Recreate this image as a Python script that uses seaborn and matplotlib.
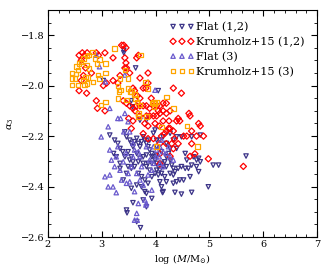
import numpy as np
import pandas as pd
import matplotlib
matplotlib.use("Agg")
import matplotlib.pyplot as plt
import seaborn as sns
from matplotlib.ticker import MultipleLocator

# Flat (1,2): downward triangles
flat12_x = [3.41, 3.41, 3.03, 4.05, 3.55, 3.63, 3.15, 3.24, 3.30, 3.34,
            3.39, 3.43, 3.46, 3.52, 3.55, 3.58, 3.61, 3.65, 3.68, 3.71,
            3.74, 3.77, 3.80, 3.83, 3.86, 3.89, 3.93, 3.96, 3.99, 4.02,
            4.05, 4.08, 4.11, 4.14, 4.17, 4.20, 4.24, 4.27, 4.30, 4.33,
            4.36, 3.65, 3.71, 3.77, 3.83, 3.89, 3.61, 3.68, 3.74, 3.80,
            3.86, 3.52, 3.55, 3.46, 3.40, 3.34, 3.27, 3.22, 3.93, 3.99,
            4.08, 4.11, 4.14, 4.20, 4.33, 4.39, 4.45, 4.52, 4.42, 4.48,
            4.55, 4.61, 4.64, 4.67, 4.70, 4.76, 4.80, 4.83, 4.76, 4.80,
            4.67, 4.83, 4.48, 4.33, 4.39, 4.55, 4.58, 5.07, 5.17, 5.68,
            4.98, 4.67, 4.48, 4.36, 4.13, 3.93, 3.83, 3.77, 3.83, 3.58,
            3.46, 3.47, 3.65, 3.72, 3.55, 3.65, 3.74, 3.80, 3.34, 3.43,
            3.49, 3.55, 4.02, 4.11, 4.20, 4.27, 4.08, 4.14, 4.27, 4.39,
            3.89, 3.96, 3.99, 3.83, 4.02, 3.71, 3.57, 3.93, 4.02, 3.83,
            3.93, 4.02, 4.11, 4.20, 4.27, 4.33, 4.17, 4.05, 3.86, 3.77,
            3.68, 3.58, 3.49]
flat12_y = [-1.860, -1.870, -1.980, -2.020, -2.060, -1.930, -2.196, -2.216, -2.229, -2.249,
            -2.262, -2.183, -2.203, -2.216, -2.229, -2.242, -2.222, -2.209, -2.229, -2.242,
            -2.222, -2.203, -2.216, -2.229, -2.242, -2.255, -2.269, -2.282, -2.295, -2.308,
            -2.321, -2.335, -2.348, -2.321, -2.302, -2.282, -2.269, -2.295, -2.315, -2.328,
            -2.341, -2.269, -2.288, -2.308, -2.321, -2.335, -2.321, -2.348, -2.361, -2.374,
            -2.387, -2.295, -2.328, -2.348, -2.374, -2.328, -2.282, -2.269, -2.361, -2.348,
            -2.381, -2.401, -2.420, -2.381, -2.387, -2.381, -2.374, -2.374, -2.328, -2.321,
            -2.328, -2.328, -2.361, -2.315, -2.282, -2.295, -2.288, -2.302, -2.321, -2.341,
            -2.203, -2.196, -2.203, -2.216, -2.249, -2.269, -2.295, -2.315, -2.315, -2.279,
            -2.401, -2.423, -2.430, -2.423, -2.424, -2.447, -2.427, -2.453, -2.480, -2.464,
            -2.493, -2.504, -2.539, -2.563, -2.407, -2.394, -2.401, -2.420, -2.308, -2.282,
            -2.262, -2.282, -2.242, -2.262, -2.229, -2.249, -2.216, -2.203, -2.189, -2.203,
            -2.216, -2.189, -2.176, -2.137, -2.216, -2.137, -2.084, -2.282, -2.275, -2.275,
            -2.308, -2.335, -2.308, -2.321, -2.348, -2.354, -2.361, -2.354, -2.308, -2.282,
            -2.302, -2.302, -2.321]

# Flat (3): upward triangles
flat3_x = [2.96, 3.07, 3.15, 3.12, 2.99, 3.15, 3.18, 3.06, 3.12, 3.21, 3.27, 3.15, 3.24, 3.27,
           3.30, 3.34, 3.37, 3.40, 3.41, 3.45, 3.49, 3.52, 3.46, 3.55, 3.58, 3.61, 3.65, 3.30,
           3.43, 3.49, 3.52, 3.58, 3.61, 3.68, 3.71, 3.74, 3.77, 3.80, 3.83, 3.82, 3.65, 3.61,
           3.66, 3.71, 3.86, 3.93, 3.93, 3.96, 4.01, 4.02, 4.07, 4.14, 4.20, 4.24, 4.27, 4.33,
           4.08, 4.11, 3.89, 3.83, 3.43, 3.99, 3.96, 4.08, 4.14, 2.90, 3.35, 3.68]
flat3_y = [-1.925, -1.985, -2.090, -2.163, -2.203, -2.255, -2.295, -2.361, -2.401, -2.401,
           -2.424, -2.354, -2.321, -2.282, -2.242, -2.335, -2.374, -2.302, -2.183, -2.269,
           -2.348, -2.381, -2.387, -2.321, -2.282, -2.420, -2.348, -2.130, -2.110, -2.143,
           -2.183, -2.229, -2.255, -2.262, -2.282, -2.321, -2.394, -2.453, -2.467, -2.473,
           -2.506, -2.533, -2.533, -2.374, -2.354, -2.414, -2.335, -2.308, -2.282, -2.255,
           -2.282, -2.262, -2.269, -2.242, -2.282, -2.295, -2.242, -2.216, -2.295, -2.242,
           -1.958, -2.018, -2.242, -2.308, -2.321, -1.879, -2.130, -2.467]

# Krumholz+15 (1,2): diamonds
krum12_x = [3.37, 3.41, 3.45, 3.43, 3.45, 3.43, 2.58, 2.64, 2.68, 2.73, 2.62, 2.90, 2.94, 3.06,
            3.21, 3.65, 3.68, 2.81, 2.70, 2.58, 2.72, 2.62, 2.66, 2.90, 2.92, 3.06, 3.03, 3.09,
            3.21, 3.30, 3.34, 3.46, 3.52, 3.71, 3.86, 3.77, 3.82, 3.86, 3.58, 3.61, 3.66, 3.71,
            4.33, 4.48, 3.40, 3.46, 3.52, 3.58, 3.65, 3.71, 3.77, 3.83, 3.89, 3.96, 4.02, 4.08,
            4.14, 4.20, 3.83, 3.89, 3.96, 4.02, 4.08, 4.14, 4.20, 4.27, 3.80, 3.86, 3.99, 4.07,
            4.14, 4.24, 3.58, 3.77, 3.86, 3.96, 4.11, 4.20, 4.27, 4.33, 4.39, 4.42, 4.45, 4.64,
            4.80, 4.83, 4.52, 4.58, 4.67, 4.76, 4.89, 4.08, 4.20, 4.30, 4.33, 4.42, 4.27, 4.08,
            4.08, 4.67, 4.64, 4.73, 4.98, 5.63, 4.62, 3.55, 3.50, 3.62, 3.70, 3.92, 4.05, 4.25,
            4.17, 4.35]
krum12_y = [-1.84, -1.84, -1.85, -1.89, -1.91, -1.93, -1.88, -1.87, -1.88, -1.87, -1.90, -1.87,
            -1.88, -1.87, -1.89, -1.89, -1.88, -1.95, -1.93, -2.02, -2.03, -1.98, -1.96, -2.06,
            -2.09, -2.10, -2.00, -1.99, -1.98, -1.99, -1.96, -1.93, -1.95, -1.97, -1.95, -2.01,
            -2.01, -1.99, -2.01, -2.02, -2.04, -2.05, -2.01, -2.03, -2.06, -2.07, -2.08, -2.09,
            -2.08, -2.08, -2.08, -2.08, -2.09, -2.08, -2.08, -2.08, -2.07, -2.07, -2.12, -2.12,
            -2.12, -2.12, -2.11, -2.10, -2.11, -2.10, -2.15, -2.16, -2.15, -2.16, -2.14, -2.17,
            -2.14, -2.19, -2.21, -2.21, -2.20, -2.18, -2.17, -2.18, -2.14, -2.13, -2.14, -2.12,
            -2.15, -2.16, -2.20, -2.20, -2.18, -2.20, -2.20, -2.23, -2.23, -2.23, -2.25, -2.23,
            -2.28, -2.27, -2.31, -2.23, -2.28, -2.27, -2.29, -2.32, -2.11, -2.17, -2.13, -2.10,
            -2.12, -2.05, -2.10, -2.14, -2.19, -2.21]

# Krumholz+15 (3): squares
krum3_x = [2.45, 2.45, 2.45, 2.50, 2.52, 2.56, 2.58, 2.62, 2.66, 2.73, 2.76, 2.83, 2.87, 2.91,
           2.93, 2.96, 2.56, 2.66, 2.70, 2.73, 2.75, 3.24, 3.07, 3.07, 2.99, 3.07, 3.30, 3.32,
           3.30, 3.34, 3.35, 3.43, 3.46, 3.49, 3.49, 3.52, 3.55, 3.61, 3.63, 3.66, 3.71, 3.72,
           3.81, 3.86, 3.68, 3.68, 3.83, 3.93, 3.96, 3.99, 4.02, 3.97, 4.20, 4.33, 4.11, 4.02,
           4.58, 4.78, 2.72, 2.68, 2.84, 2.76, 2.96, 2.53]
krum3_y = [-1.949, -1.972, -1.998, -1.972, -1.954, -1.939, -1.912, -1.906, -1.892, -1.883,
           -1.879, -1.866, -1.892, -1.912, -1.958, -1.972, -1.998, -1.978, -1.965, -1.991,
           -1.968, -1.853, -1.912, -1.949, -2.077, -2.064, -2.002, -2.024, -2.051, -1.972,
           -2.018, -1.939, -2.057, -1.972, -2.011, -2.024, -2.024, -2.035, -2.051, -2.064,
           -2.077, -1.879, -1.985, -2.011, -2.110, -2.123, -2.123, -2.068, -2.064, -2.071,
           -2.064, -2.084, -2.044, -2.090, -2.163, -2.242, -2.160, -2.242, -1.919, -1.998,
           -1.985, -1.932, -1.896, -1.925]

plt.rcParams["font.family"] = ["DejaVu Serif"]
plt.rcParams["mathtext.fontset"] = "dejavuserif"
plt.rcParams["font.size"] = 7

fig = plt.figure(figsize=(3.3, 2.75), dpi=100)
ax = fig.add_axes([0.145, 0.138, 0.816, 0.826])

series = [
    (flat12_x, flat12_y, "v", "#3c3488", "Flat (1,2)"),
    (krum12_x, krum12_y, "D", "#ff0000", "Krumholz+15 (1,2)"),
    (flat3_x, flat3_y, "^", "#6a5acd", "Flat (3)"),
    (krum3_x, krum3_y, "s", "#ffa500", "Krumholz+15 (3)"),
]
for xs, ys, mk, col, lab in series:
    df = pd.DataFrame({"x": xs, "y": ys})
    sns.scatterplot(data=df, x="x", y="y", marker=mk, s=10, color=col,
                    facecolors="none", edgecolor=col, linewidth=0.9,
                    label=lab, ax=ax, zorder=3)

ax.set_xlim(2, 7)
ax.set_ylim(-2.6, -1.7)
ax.xaxis.set_major_locator(MultipleLocator(1))
ax.xaxis.set_minor_locator(MultipleLocator(0.2))
ax.yaxis.set_major_locator(MultipleLocator(0.2))
ax.yaxis.set_minor_locator(MultipleLocator(0.05))
ax.tick_params(which="both", direction="in", top=True, right=True, labelsize=7, pad=2)
ax.tick_params(which="major", length=4)
ax.tick_params(which="minor", length=2)
ax.set_xlabel(r"log $(M/\mathrm{M}_{\odot})$", fontsize=7, labelpad=2)
ax.set_ylabel(r"$\alpha_3$", fontsize=7)
ax.legend(loc="upper right", frameon=False, scatterpoints=3, fontsize=8,
          handletextpad=0.2, handlelength=2.2, borderaxespad=0.7, labelspacing=0.4,
          scatteryoffsets=[0.5, 0.5, 0.5])

fig.savefig("out.png", dpi=100)
